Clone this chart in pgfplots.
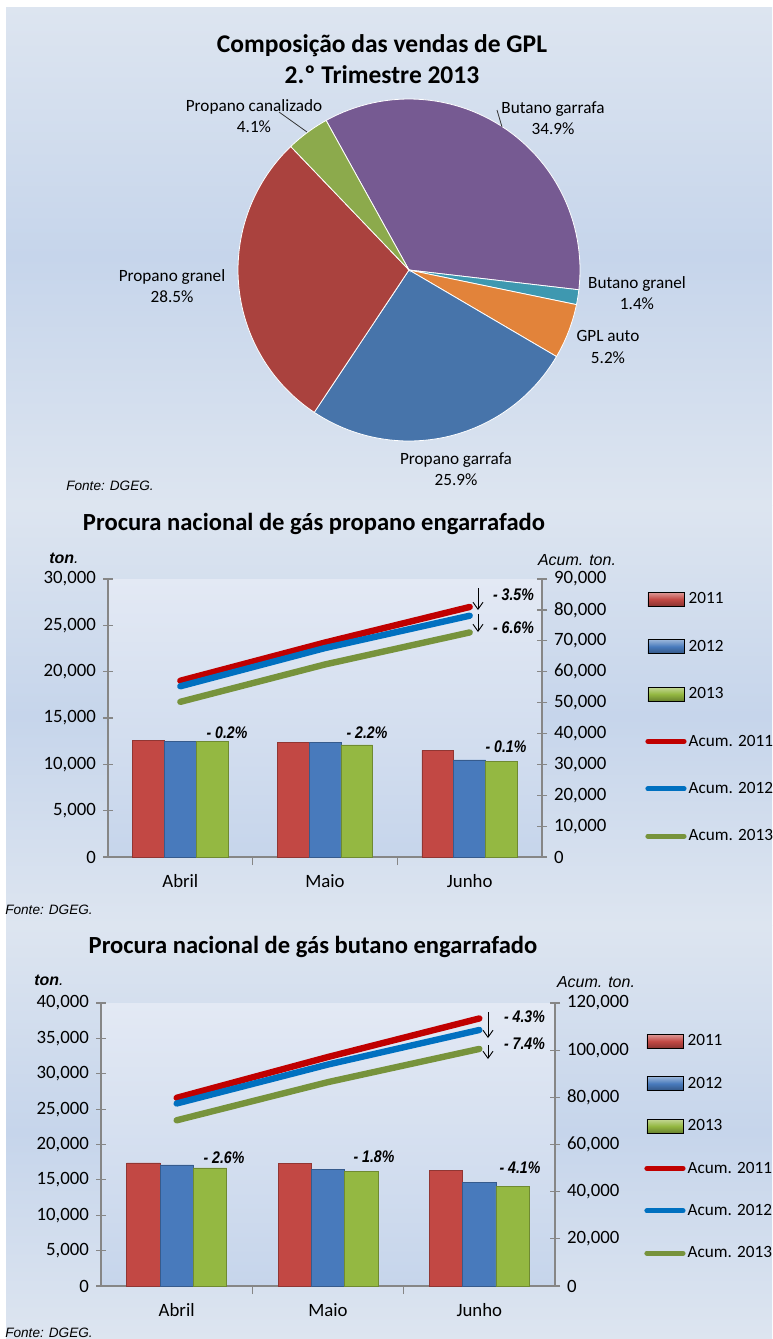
\documentclass[border=0pt]{standalone}
\usepackage{pgfplots}
\usepackage{pgfplotstable}
\pgfplotsset{compat=1.18}
\usepackage{fontspec}
\setmainfont{Carlito}
\newfontfamily\arialf{Liberation Sans}
\newfontfamily\narrow{Liberation Sans}[FakeStretch=0.84]
\usetikzlibrary{arrows.meta}

\definecolor{bgL}{RGB}{221,229,240}
\definecolor{bgD}{RGB}{198,213,235}
\definecolor{plotL}{RGB}{227,233,244}
\definecolor{axgray}{RGB}{134,134,134}
\definecolor{pPurple}{RGB}{118,90,146}
\definecolor{pTeal}{RGB}{62,152,176}
\definecolor{pOrange}{RGB}{226,131,58}
\definecolor{pBlue}{RGB}{71,116,170}
\definecolor{pRed}{RGB}{170,66,62}
\definecolor{pGreen}{RGB}{140,170,76}
\definecolor{barR}{RGB}{194,72,68}
\definecolor{barB}{RGB}{72,122,188}
\definecolor{barG}{RGB}{148,184,66}
\definecolor{lnR}{RGB}{192,0,0}
\definecolor{lnB}{RGB}{0,112,192}
\definecolor{lnG}{RGB}{119,147,60}

% monthly sales (m) and accumulated sales (a), tonnes
\pgfplotstableread{
x m11 m12 m13 a11 a12 a13
0 12590 12480 12460 57070 55280 50240
1 12370 12370 12100 69440 67650 62340
2 11510 10470 10360 80950 78120 72700
}\propano
\pgfplotstableread{
x m11 m12 m13 a11 a12 a13
0 17410 17130 16700 79800 77400 70270
1 17320 16520 16190 97120 93920 86460
2 16330 14640 14070 113450 108560 100530
}\butano

\newcommand\fs[2]{\fontsize{#1}{#2}\selectfont}
% pie slice from cumulative percent #1 to #2, first slice starts at 119 deg, clockwise
\newcommand\slice[3]{%
  \pgfmathsetmacro\angA{119-3.6*#2}\pgfmathsetmacro\angB{119-3.6*#1}%
  \addplot[fill=#3, draw=white, line width=0.4pt, domain=\angA:\angB, samples=60, variable=\t]
    ({cos(\t)},{sin(\t)}) -- (axis cs:0,0) -- cycle;}

\pgfplotsset{
  gpl/.style={scale only axis, xmin=-0.5, xmax=2.5, ymin=0,
    axis line style={draw=axgray, line width=0.6pt},
    tick style={draw=axgray, line width=0.6pt},
    tick align=center, major tick length=5pt,
    scaled y ticks=false,
    /pgf/number format/fixed,
    /pgf/number format/1000 sep={,},
    /pgf/number format/assume math mode=true,
    tick label style={font=\fs{9.4}{11}, text=black}},
  gplleft/.style={gpl, axis x line*=bottom, axis y line*=left,
    ybar, bar width=0.22,
    xtick={0,1,2}, xticklabels={Abril,Maio,Junho},
    major x tick style={draw=none},
    extra x ticks={0.5,1.5}, extra x tick labels={},
    extra x tick style={major x tick style={draw=axgray, line width=0.6pt},
      tick align=outside, major tick length=4pt},
    axis background/.style={top color=plotL, bottom color=bgD}},
  gplright/.style={gpl, axis x line=none, axis y line*=right,
    legend cell align=left},
  bst/.style={fill=#1, draw=#1!75!black, line width=0.3pt},
  barleg/.style={legend image code/.code={\fill[##1] (0pt,-3.5pt) rectangle (18pt,3.5pt);}},
  lineleg/.style={legend image code/.code={\draw[##1, line width=2.6pt, line cap=round] (0pt,0pt) -- (18pt,0pt);}},
  acum/.style={#1, line width=3.2pt, line cap=round, line join=round, mark=none, lineleg},
  sw/.style={barleg, top color=#1!55!white, bottom color=#1!70!black, middle color=#1},
}

\begin{document}
\begin{tikzpicture}[x=0.5pt,y=0.5pt]
\useasboundingbox (0,0) rectangle (772,-1339);
\fill[white] (0,0) rectangle (772,-1339);
\shade[top color=bgL, bottom color=bgL, middle color=bgD] (6,-7) rectangle (772,-505);
\shade[top color=bgL, bottom color=bgL, middle color=bgD] (6,-505) rectangle (772,-925);
\shade[top color=bgL, bottom color=bgL, middle color=bgD] (6,-925) rectangle (772,-1339);
% anchor points of the axes, in picture pixels
\coordinate (pieC) at (409,-270);
\coordinate (propO) at (108,-857);
\coordinate (butO) at (101,-1286);

% ---------- pie ----------
\node[font=\fs{12.75}{15.5}\bfseries, align=center] at (382,-59)
  {Composição das vendas de GPL\\2.º Trimestre 2013};
\begin{axis}[at={(pieC)}, anchor=center, scale only axis,
    width=171pt, height=171pt, xmin=-1, xmax=1, ymin=-1, ymax=1,
    hide axis, clip=false]
  \slice{0}{34.9}{pPurple}
  \slice{34.9}{36.3}{pTeal}
  \slice{36.3}{41.5}{pOrange}
  \slice{41.5}{67.4}{pBlue}
  \slice{67.4}{95.9}{pRed}
  \slice{95.9}{100}{pGreen}
\end{axis}
\begin{scope}[every node/.style={font=\fs{8.6}{10.6}, align=center}]
  \node at (254,-116) {Propano canalizado\\4.1\%};
  \node at (553,-118) {Butano garrafa\\34.9\%};
  \node at (172,-286) {Propano granel\\28.5\%};
  \node at (637,-293) {Butano granel\\1.4\%};
  \node at (608,-347) {GPL auto\\5.2\%};
  \node at (456,-469) {Propano garrafa\\25.9\%};
\end{scope}
\draw[black!80, line width=0.4pt] (279,-112) -- (307,-132);
\draw[black!80, line width=0.4pt] (497,-110) -- (502,-127);
\node[font=\arialf\itshape\fs{6.8}{8}] at (110,-486) {Fonte: DGEG.};

% ---------- propano ----------
\node[font=\fs{12.3}{14}\bfseries] at (314,-524) {Procura nacional de gás propano engarrafado};
\node[font=\arialf\fs{8}{9}] at (64,-558) {\bfseries\itshape ton\mdseries.};
\node[font=\arialf\itshape\fs{8}{9}] at (577,-560) {Acum. ton.};
\begin{axis}[gplleft, at={(propO)}, anchor=south west,
    width=217pt, height=139pt, ymax=30000, ytick distance=5000]
  \addplot[bst=barR, bar shift=-0.22] table[x=x, y=m11] {\propano};
  \addplot[bst=barB, bar shift=0] table[x=x, y=m12] {\propano};
  \addplot[bst=barG, bar shift=0.22] table[x=x, y=m13] {\propano};
\end{axis}
\begin{axis}[gplright, at={(propO)}, anchor=south west,
    width=217pt, height=139pt, ymax=90000, ytick distance=10000,
    legend style={draw=none, fill=none, inner sep=0pt, row sep=13.9pt,
      font=\fs{8.6}{10}, at={(1.2373,0.964)}, anchor=north west,
      nodes={inner sep=1pt, text height=6.2pt, text depth=1.6pt}}]
  \addlegendimage{sw=barR}
  \addlegendentry{2011}
  \addlegendimage{sw=barB}
  \addlegendentry{2012}
  \addlegendimage{sw=barG}
  \addlegendentry{2013}
  \addplot[acum=lnR] table[x=x, y=a11] {\propano};
  \addlegendentry{Acum. 2011}
  \addplot[acum=lnB] table[x=x, y=a12] {\propano};
  \addlegendentry{Acum. 2012}
  \addplot[acum=lnG] table[x=x, y=a13] {\propano};
  \addlegendentry{Acum. 2013}
\end{axis}
\begin{scope}[every node/.style={font=\narrow\bfseries\itshape\fs{8.4}{9}}]
  \node at (227,-733) {- 0.2\%};
  \node at (367,-733) {- 2.2\%};
  \node at (506,-747) {- 0.1\%};
  \node[anchor=west] at (486,-595) {- 3.5\%};
  \node[anchor=west] at (486,-628) {- 6.6\%};
\end{scope}
\draw[line width=0.45pt, -{Straight Barb[length=3.5pt, width=5pt]}] (478,-588) -- (478,-610);
\draw[line width=0.45pt, -{Straight Barb[length=3.5pt, width=5pt]}] (478,-614) -- (478,-632);
\node[font=\arialf\itshape\fs{6.8}{8}] at (49,-910) {Fonte: DGEG.};

% ---------- butano ----------
\node[font=\fs{12.3}{14}\bfseries] at (313,-947) {Procura nacional de gás butano engarrafado};
\node[font=\arialf\fs{8}{9}] at (49,-980) {\bfseries\itshape ton\mdseries.};
\node[font=\arialf\itshape\fs{8}{9}] at (596,-982) {Acum. ton.};
\begin{axis}[gplleft, at={(butO)}, anchor=south west,
    width=227pt, height=141.5pt, ymax=40000, ytick distance=5000]
  \addplot[bst=barR, bar shift=-0.22] table[x=x, y=m11] {\butano};
  \addplot[bst=barB, bar shift=0] table[x=x, y=m12] {\butano};
  \addplot[bst=barG, bar shift=0.22] table[x=x, y=m13] {\butano};
\end{axis}
\begin{axis}[gplright, at={(butO)}, anchor=south west,
    width=227pt, height=141.5pt, ymax=120000, ytick distance=20000,
    legend style={draw=none, fill=none, inner sep=0pt, row sep=11.4pt,
      font=\fs{8.6}{10}, at={(1.196,0.901)}, anchor=north west,
      nodes={inner sep=1pt, text height=6.2pt, text depth=1.6pt}}]
  \addlegendimage{sw=barR}
  \addlegendentry{2011}
  \addlegendimage{sw=barB}
  \addlegendentry{2012}
  \addlegendimage{sw=barG}
  \addlegendentry{2013}
  \addplot[acum=lnR] table[x=x, y=a11] {\butano};
  \addlegendentry{Acum. 2011}
  \addplot[acum=lnB] table[x=x, y=a12] {\butano};
  \addlegendentry{Acum. 2012}
  \addplot[acum=lnG] table[x=x, y=a13] {\butano};
  \addlegendentry{Acum. 2013}
\end{axis}
\begin{scope}[every node/.style={font=\narrow\bfseries\itshape\fs{8.4}{9}}]
  \node at (224,-1158) {- 2.6\%};
  \node at (374,-1157) {- 1.8\%};
  \node at (520,-1168) {- 4.1\%};
  \node[anchor=west] at (497,-1017) {- 4.3\%};
  \node[anchor=west] at (497,-1044) {- 7.4\%};
\end{scope}
\draw[line width=0.45pt, -{Straight Barb[length=3.5pt, width=5pt]}] (488,-1012) -- (488,-1038);
\draw[line width=0.45pt, -{Straight Barb[length=3.5pt, width=5pt]}] (488,-1045) -- (488,-1059);
\node[font=\arialf\itshape\fs{6.8}{8}] at (49,-1333) {Fonte: DGEG.};
\end{tikzpicture}
\end{document}
